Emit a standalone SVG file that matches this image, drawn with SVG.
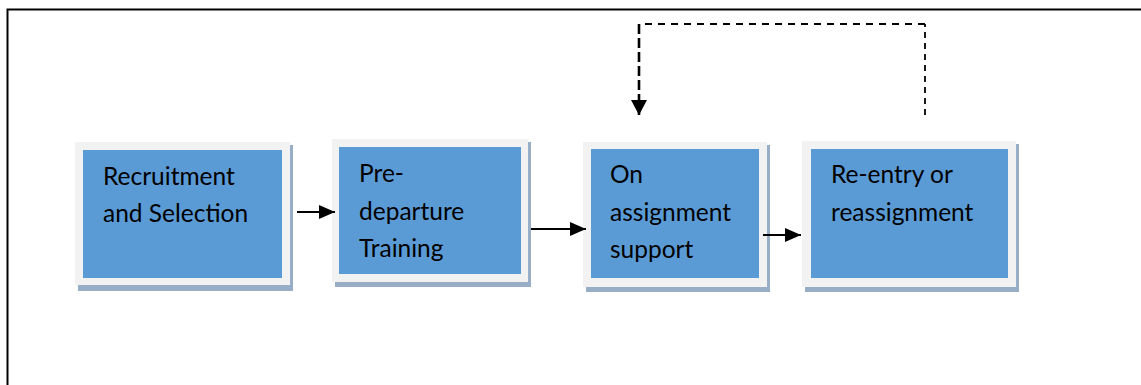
<svg xmlns="http://www.w3.org/2000/svg" width="1141" height="385" viewBox="0 0 1141 385">
  <defs>
    <style>
      .shadow { fill: #97aec6; }
      .frame { fill: #f2f2f2; }
      .box { fill: #5b9bd5; }
      .label { font-family: Lato, "Open Sans", sans-serif; font-size: 24.5px; fill: #000; }
      .flow { stroke: #000; stroke-width: 2; fill: none; }
      .loop { stroke: #000; fill: none; }
    </style>
    <marker id="arrow" viewBox="0 0 16 14" refX="16" refY="7" markerWidth="16" markerHeight="14" markerUnits="userSpaceOnUse" orient="auto">
      <path d="M0,0 L16,7 L0,14 Z" fill="#000"/>
    </marker>
    <marker id="arrowDown" viewBox="0 0 15 16" refX="15" refY="8" markerWidth="15" markerHeight="16" markerUnits="userSpaceOnUse" orient="auto">
      <path d="M0,0 L15,8 L0,16 Z" fill="#000"/>
    </marker>
  </defs>

  <rect width="1141" height="385" fill="#fff"/>
  <!-- outer frame (open on the right and bottom) -->
  <path d="M7.5,385 V9.5 H1141" fill="none" stroke="#000" stroke-width="2"/>

  <g id="node-recruitment">
    <rect class="shadow" x="78" y="145" width="215" height="146"/>
    <rect class="frame" x="75" y="142" width="215" height="143"/>
    <rect class="box" x="83" y="150" width="199" height="128"/>
    <text class="label" x="103" y="185">Recruitment</text>
    <text class="label" x="103" y="222">and Selection</text>
  </g>

  <g id="node-predeparture">
    <rect class="shadow" x="335" y="142" width="196" height="145"/>
    <rect class="frame" x="332" y="139" width="196" height="143"/>
    <rect class="box" x="339" y="147" width="182" height="127"/>
    <text class="label" x="359" y="182">Pre-</text>
    <text class="label" x="359" y="220">departure</text>
    <text class="label" x="359" y="257">Training</text>
  </g>

  <g id="node-onassignment">
    <rect class="shadow" x="586" y="145" width="184" height="147"/>
    <rect class="frame" x="583" y="142" width="184" height="145"/>
    <rect class="box" x="591" y="149" width="168" height="129"/>
    <text class="label" x="610" y="183">On</text>
    <text class="label" x="610" y="221">assignment</text>
    <text class="label" x="610" y="258">support</text>
  </g>

  <g id="node-reentry">
    <rect class="shadow" x="805" y="144" width="214" height="148"/>
    <rect class="frame" x="802" y="141" width="214" height="146"/>
    <rect class="box" x="811" y="149" width="197" height="129"/>
    <text class="label" x="831" y="183">Re-entry or</text>
    <text class="label" x="831" y="221">reassignment</text>
  </g>

  <g id="connectors">
    <line class="flow" x1="297" y1="212" x2="335" y2="212" marker-end="url(#arrow)"/>
    <line class="flow" x1="531" y1="229" x2="586" y2="229" marker-end="url(#arrow)"/>
    <line class="flow" x1="763" y1="235" x2="801" y2="235" marker-end="url(#arrow)"/>
    <!-- feedback loop: re-entry back to on-assignment support -->
    <line class="loop" stroke-width="1.8" stroke-dasharray="6 5" x1="925" y1="115" x2="925" y2="24"/>
    <line class="loop" stroke-width="2" stroke-dasharray="7 6" x1="925" y1="24" x2="639" y2="24"/>
    <line class="loop" stroke-width="2.6" stroke-dasharray="10 4" x1="639" y1="24" x2="639" y2="115" marker-end="url(#arrowDown)"/>
  </g>
</svg>
